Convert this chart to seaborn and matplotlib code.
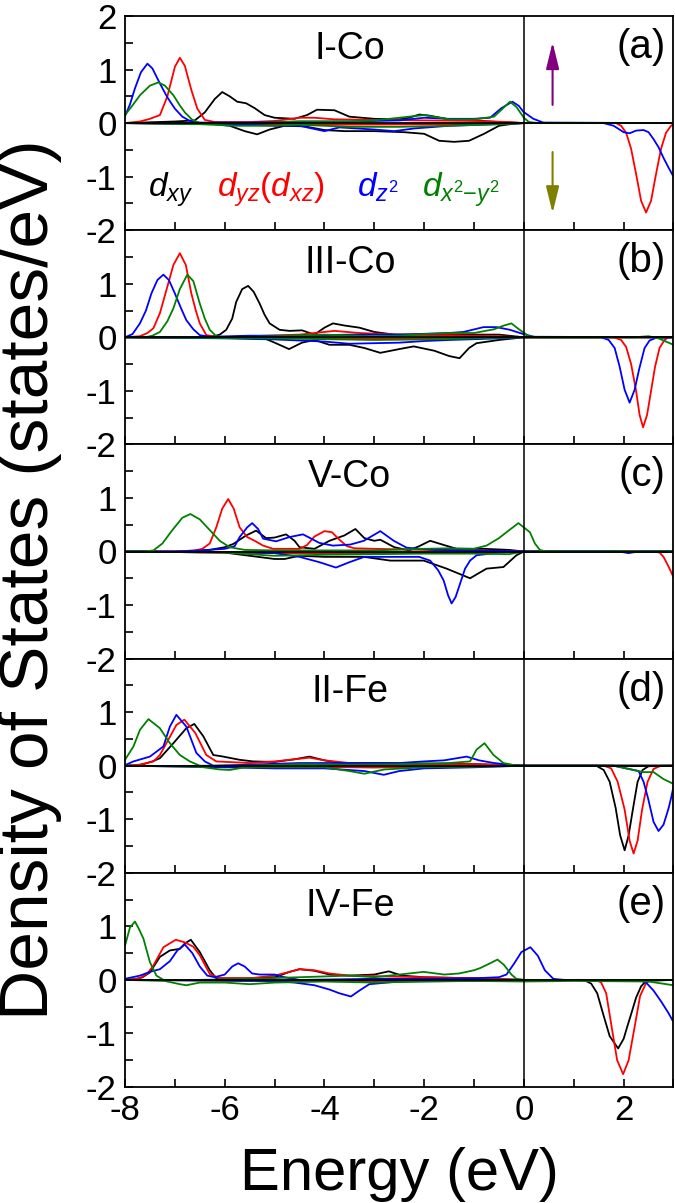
import matplotlib
matplotlib.use("Agg")
import matplotlib.pyplot as plt
from matplotlib import font_manager
from matplotlib.ticker import MultipleLocator, FixedLocator, FixedFormatter
import seaborn as sns
import pandas as pd

# ---------------- data: (energy eV, DOS states/eV) ----------------
PANELS = ["a", "b", "c", "d", "e"]
PANEL_NAMES = ["I-Co", "III-Co", "V-Co", "II-Fe", "IV-Fe"]
PANEL_LETTERS = ["(a)", "(b)", "(c)", "(d)", "(e)"]
ORBITALS = ["dxy", "dyz", "dz2", "dx2y2"]
ORBITAL_COLORS = ["#000000", "#ff0000", "#0000ff", "#008000"]
LEGEND_TEXT = [r"$d_{xy}$", r"$d_{yz}(d_{xz})$", r"$d_{z^2}$", r"$d_{x^2\mathrm{-}y^2}$"]
LEGEND_X = [-7.53, -6.15, -3.35, -2.04]
X_TICKS = [-8, -6, -4, -2, 0, 2]
Y_TICKS = [-2, -1, 0, 1, 2]

# ----- panel (a) I-Co -----
A_XY_UP = [(-8, 0), (-7.0, 0.03), (-6.6, 0.05), (-6.4, 0.2), (-6.2, 0.45), (-6.05, 0.58), (-5.9, 0.5),
           (-5.75, 0.4), (-5.57, 0.37), (-5.4, 0.28), (-5.2, 0.15), (-5.0, 0.1), (-4.6, 0.08), (-4.35, 0.15),
           (-4.15, 0.25), (-3.8, 0.24), (-3.5, 0.12), (-3.0, 0.08), (-2.5, 0.07), (-2.3, 0.1), (-2.1, 0.16),
           (-1.9, 0.14), (-1.5, 0.07), (-1.0, 0.05), (-0.5, 0.02), (0, 0.0), (3, 0)]
A_XY_DN = [(-8, 0), (-6.2, -0.02), (-5.9, -0.05), (-5.6, -0.15), (-5.35, -0.21), (-5.1, -0.12), (-4.8, -0.05),
           (-4.4, -0.06), (-4.0, -0.13), (-3.6, -0.15), (-3.0, -0.15), (-2.4, -0.17), (-2.0, -0.2), (-1.7, -0.33),
           (-1.4, -0.35), (-1.1, -0.33), (-0.8, -0.2), (-0.5, -0.05), (-0.2, -0.01), (0, 0), (3, 0)]
A_YZ_UP = [(-8, 0), (-7.7, 0.03), (-7.5, 0.08), (-7.3, 0.15), (-7.15, 0.5), (-7.0, 1.05), (-6.9, 1.22),
           (-6.8, 1.07), (-6.67, 0.62), (-6.55, 0.27), (-6.4, 0.06), (-6.2, 0.02), (-5.5, 0.02), (-5.0, 0.04),
           (-4.5, 0.1), (-4.2, 0.1), (-3.8, 0.07), (-3.0, 0.06), (-2.0, 0.05), (-1, 0.04), (-0.3, 0.02), (0, 0), (3, 0)]
A_YZ_DN = [(-8, 0), (-5, -0.02), (-4, -0.03), (-1, -0.02), (0, 0), (1.85, 0), (1.95, -0.05), (2.05, -0.18),
           (2.15, -0.48), (2.25, -0.95), (2.35, -1.45), (2.45, -1.67), (2.55, -1.45), (2.65, -0.95),
           (2.75, -0.48), (2.85, -0.18), (2.95, -0.05), (3.0, -0.02)]
A_Z2_UP = [(-8, 0.13), (-7.9, 0.35), (-7.8, 0.65), (-7.68, 0.95), (-7.55, 1.11), (-7.45, 1.02), (-7.3, 0.74),
           (-7.15, 0.48), (-7.0, 0.27), (-6.85, 0.12), (-6.7, 0.04), (-6.5, 0.01), (-5.5, 0.01), (-4.5, 0.03),
           (-3.5, 0.03), (-2.5, 0.05), (-2.0, 0.1), (-1.5, 0.08), (-1.0, 0.08), (-0.68, 0.1), (-0.45, 0.28),
           (-0.23, 0.40), (-0.1, 0.32), (-0.01, 0.21), (0.19, 0.08), (0.39, 0.01), (3, 0)]
A_Z2_DN = [(-8, 0), (-6.5, -0.01), (-5.5, -0.03), (-5, -0.05), (-4.5, -0.05), (-4.0, -0.15), (-3.7, -0.08),
           (-3.0, -0.12), (-2.6, -0.15), (-2.2, -0.1), (-1.5, -0.05), (-0.5, -0.02), (0, 0), (1.6, 0),
           (1.8, -0.05), (2.0, -0.17), (2.12, -0.19), (2.25, -0.14), (2.4, -0.13), (2.5, -0.17), (2.6, -0.3),
           (2.7, -0.45), (2.8, -0.65), (2.9, -0.83), (3.0, -1.0)]
A_X2_UP = [(-8, 0.15), (-7.85, 0.33), (-7.7, 0.52), (-7.5, 0.7), (-7.33, 0.76), (-7.2, 0.7), (-7.03, 0.52),
           (-6.9, 0.33), (-6.8, 0.2), (-6.65, 0.06), (-6.5, 0.0), (-5.5, 0.0), (-4.5, 0.03), (-3.5, 0.03),
           (-3.0, 0.05), (-2.5, 0.1), (-2.0, 0.15), (-1.5, 0.07), (-1.0, 0.07), (-0.6, 0.12), (-0.45, 0.25),
           (-0.28, 0.40), (-0.15, 0.3), (0.0, 0.1), (0.1, 0.02), (0.3, 0), (3, 0)]
A_X2_DN = [(-8, 0), (-6.5, -0.02), (-5.8, -0.05), (-5.2, -0.05), (-4.5, -0.03), (-3.5, -0.07), (-2.5, -0.07),
           (-1.5, -0.05), (-0.5, -0.02), (0, 0), (3, 0)]

# ----- panel (b) III-Co -----
B_XY_UP = [(-8, 0), (-6.3, 0.0), (-6.1, 0.05), (-5.97, 0.14), (-5.85, 0.35), (-5.77, 0.66), (-5.65, 0.9),
           (-5.53, 0.96), (-5.42, 0.85), (-5.3, 0.63), (-5.2, 0.42), (-5.1, 0.26), (-4.9, 0.14), (-4.7, 0.12),
           (-4.45, 0.13), (-4.2, 0.05), (-4.0, 0.18), (-3.83, 0.26), (-3.6, 0.22), (-3.3, 0.18), (-3.0, 0.1),
           (-2.6, 0.05), (-1.5, 0.05), (-0.5, 0.05), (0, 0), (3, 0)]
B_XY_DN = [(-8, 0), (-5.2, -0.02), (-5.0, -0.1), (-4.71, -0.22), (-4.45, -0.1), (-4.2, -0.05), (-3.9, -0.14),
           (-3.5, -0.14), (-3.2, -0.2), (-2.88, -0.29), (-2.5, -0.22), (-2.21, -0.17), (-1.8, -0.25),
           (-1.5, -0.35), (-1.29, -0.39), (-1.1, -0.2), (-0.95, -0.11), (-0.5, -0.05), (0, 0), (3, 0)]
B_YZ_UP = [(-8, 0), (-7.7, 0.02), (-7.55, 0.08), (-7.43, 0.17), (-7.3, 0.45), (-7.17, 0.88), (-7.03, 1.35),
           (-6.9, 1.57), (-6.78, 1.35), (-6.67, 0.82), (-6.58, 0.5), (-6.5, 0.26), (-6.37, 0.04), (-6.1, 0.0),
           (-5.5, 0.02), (-4.5, 0.05), (-3.8, 0.12), (-3.3, 0.08), (-2.5, 0.05), (-1.5, 0.04), (-0.5, 0.02),
           (0, 0), (3, 0)]
B_YZ_DN = [(-8, 0), (-3, -0.03), (0, 0), (1.8, 0), (1.95, -0.05), (2.05, -0.18), (2.15, -0.5), (2.25, -1.0),
           (2.32, -1.45), (2.39, -1.68), (2.47, -1.45), (2.55, -1.0), (2.63, -0.55), (2.72, -0.2),
           (2.82, -0.05), (2.9, 0.0), (3, 0)]
B_Z2_UP = [(-8, 0.0), (-7.85, 0.06), (-7.7, 0.26), (-7.58, 0.5), (-7.47, 0.82), (-7.35, 1.07), (-7.23, 1.17),
           (-7.12, 1.07), (-7.0, 0.82), (-6.88, 0.55), (-6.77, 0.32), (-6.63, 0.15), (-6.5, 0.04), (-6.3, 0.01),
           (-5.5, 0.03), (-4.5, 0.03), (-3.5, 0.05), (-2.5, 0.05), (-1.5, 0.08), (-1.21, 0.1), (-0.81, 0.19),
           (-0.55, 0.19), (-0.28, 0.14), (-0.01, 0.06), (0.2, 0.01), (3, 0)]
B_Z2_DN = [(-8, 0), (-6, -0.02), (-5, -0.04), (-4.5, -0.06), (-4, -0.08), (-3.5, -0.12), (-3, -0.11),
           (-2.5, -0.1), (-2, -0.07), (-1.5, -0.05), (-0.5, -0.02), (0, 0), (1.55, 0), (1.7, -0.05),
           (1.82, -0.2), (1.92, -0.55), (2.02, -0.98), (2.12, -1.22), (2.22, -0.98), (2.31, -0.6),
           (2.42, -0.2), (2.52, -0.06), (2.65, -0.01), (3, 0)]
B_X2_UP = [(-8, 0), (-7.6, 0.0), (-7.45, 0.03), (-7.3, 0.1), (-7.15, 0.3), (-7.03, 0.54), (-6.9, 0.9),
           (-6.75, 1.17), (-6.63, 1.05), (-6.5, 0.63), (-6.4, 0.35), (-6.3, 0.14), (-6.17, 0.02), (-6, 0),
           (-5, 0.02), (-4, 0.05), (-3, 0.02), (-2.5, 0.03), (-2, 0.06), (-1.5, 0.08), (-1.0, 0.08),
           (-0.6, 0.15), (-0.4, 0.22), (-0.25, 0.26), (-0.1, 0.15), (0.1, 0.02), (0.3, 0), (3, 0)]
B_X2_DN = [(-8, 0), (-5, -0.02), (-3, -0.05), (-2, -0.04), (-1, -0.02), (0, 0), (2.2, 0), (2.5, 0.02),
           (2.7, -0.02), (2.85, -0.08), (3, -0.14)]

# ----- panel (c) V-Co -----
C_XY_UP = [(-8, 0), (-6.8, 0.0), (-6.3, 0.03), (-6.0, 0.08), (-5.83, 0.14), (-5.57, 0.3), (-5.37, 0.39),
           (-5.17, 0.25), (-5.0, 0.26), (-4.77, 0.32), (-4.6, 0.2), (-4.5, 0.08), (-4.2, 0.05), (-3.9, 0.2),
           (-3.6, 0.3), (-3.38, 0.42), (-3.2, 0.25), (-3.0, 0.2), (-2.88, 0.22), (-2.6, 0.08), (-2.3, 0.02),
           (-2.1, 0.1), (-1.88, 0.2), (-1.6, 0.12), (-1.35, 0.05), (-0.8, 0.05), (-0.3, 0.03), (0, 0), (3, 0)]
C_XY_DN = [(-8, 0), (-6, -0.02), (-5.5, -0.08), (-5.0, -0.14), (-4.8, -0.14), (-4.5, -0.08), (-4.0, -0.1),
           (-3.88, -0.1), (-3.21, -0.1), (-2.68, -0.17), (-2.01, -0.17), (-1.55, -0.32), (-1.08, -0.5),
           (-0.75, -0.32), (-0.41, -0.29), (-0.15, -0.07), (0, 0), (3, 0)]
C_YZ_UP = [(-8, 0), (-7, 0.0), (-6.6, 0.02), (-6.45, 0.05), (-6.3, 0.15), (-6.17, 0.45), (-6.05, 0.8),
           (-5.93, 0.98), (-5.82, 0.8), (-5.7, 0.45), (-5.55, 0.27), (-5.4, 0.2), (-5.23, 0.11), (-5.03, 0.05),
           (-4.5, 0.05), (-4.35, 0.12), (-4.2, 0.28), (-4.0, 0.38), (-3.85, 0.36), (-3.7, 0.22), (-3.55, 0.1),
           (-3.4, 0.06), (-3.0, 0.05), (-2.0, 0.03), (-1.0, 0.02), (0, 0), (3, 0)]
C_YZ_DN = [(-8, 0), (-5, -0.03), (-3, -0.03), (-1, -0.02), (0, 0), (2.6, 0), (2.72, -0.02), (2.8, -0.1),
           (2.9, -0.28), (3.0, -0.48)]
C_Z2_UP = [(-8, 0), (-7, 0.0), (-6.5, 0.02), (-6, 0.05), (-5.8, 0.1), (-5.7, 0.27), (-5.55, 0.45),
           (-5.45, 0.53), (-5.33, 0.42), (-5.23, 0.24), (-4.97, 0.19), (-4.7, 0.27), (-4.43, 0.32),
           (-4.1, 0.16), (-3.83, 0.11), (-3.48, 0.13), (-3.21, 0.2), (-2.88, 0.38), (-2.61, 0.2),
           (-2.35, 0.07), (-1.8, 0.03), (-1.0, 0.02), (-0.3, 0.01), (0, 0), (3, 0)]
C_Z2_DN = [(-8, 0), (-6, -0.01), (-5, -0.03), (-4.5, -0.1), (-4.1, -0.2), (-3.77, -0.3), (-3.5, -0.2),
           (-3.2, -0.1), (-2.5, -0.1), (-2.1, -0.1), (-1.88, -0.17), (-1.72, -0.35), (-1.61, -0.54),
           (-1.52, -0.82), (-1.45, -0.97), (-1.37, -0.85), (-1.28, -0.6), (-1.18, -0.32), (-1.08, -0.17),
           (-0.95, -0.07), (-0.5, -0.02), (0, 0), (1.9, 0), (2.1, -0.03), (2.3, 0), (3, 0)]
C_X2_UP = [(-8, 0), (-7.6, 0.0), (-7.43, 0.02), (-7.25, 0.15), (-7.05, 0.4), (-6.85, 0.63), (-6.69, 0.70),
           (-6.5, 0.6), (-6.3, 0.4), (-6.1, 0.2), (-5.9, 0.08), (-5.6, 0.03), (-5, 0.02), (-4, 0.02), (-3, 0.02),
           (-2, 0.05), (-1.5, 0.06), (-1.01, 0.05), (-0.75, 0.11), (-0.5, 0.25), (-0.35, 0.36), (-0.11, 0.53),
           (0.12, 0.36), (0.22, 0.15), (0.32, 0.03), (0.45, 0), (3, 0)]
C_X2_DN = [(-8, 0), (-6, -0.02), (-5, -0.08), (-4, -0.06), (-3, -0.05), (-2, -0.04), (-1, -0.04),
           (-0.3, -0.05), (0, 0), (3, 0)]

# ----- panel (d) II-Fe -----
D_XY_UP = [(-8, 0), (-7.8, 0.0), (-7.63, 0.03), (-7.45, 0.08), (-7.3, 0.14), (-7.03, 0.42), (-6.77, 0.7),
           (-6.61, 0.78), (-6.43, 0.55), (-6.23, 0.2), (-6.03, 0.17), (-5.7, 0.11), (-5.43, 0.08),
           (-5.0, 0.07), (-4.6, 0.12), (-4.3, 0.17), (-4.0, 0.1), (-3.7, 0.05), (-3.0, 0.05), (-2, 0.04),
           (-1, 0.03), (0, 0), (3, 0)]
D_XY_DN = [(-8, 0), (-5, -0.02), (-3, -0.03), (0, 0), (1.45, 0), (1.6, -0.08), (1.72, -0.3), (1.84, -0.79),
           (1.93, -1.3), (2.02, -1.58), (2.1, -1.3), (2.19, -0.79), (2.28, -0.3), (2.38, -0.08), (2.5, -0.01),
           (3, 0)]
D_YZ_UP = [(-8, 0), (-7.7, 0.02), (-7.43, 0.08), (-7.3, 0.2), (-7.17, 0.42), (-6.97, 0.76), (-6.81, 0.86),
           (-6.59, 0.61), (-6.37, 0.2), (-6.17, 0.08), (-5.5, 0.05), (-5.0, 0.08), (-4.6, 0.12), (-4.3, 0.15),
           (-4.0, 0.1), (-3.5, 0.05), (-2.5, 0.03), (-1, 0.03), (0, 0), (3, 0)]
D_YZ_DN = [(-8, 0), (-3, -0.03), (0, 0), (1.6, 0), (1.75, -0.05), (1.88, -0.3), (2.02, -0.82), (2.12, -1.4),
           (2.2, -1.64), (2.28, -1.4), (2.37, -0.82), (2.48, -0.3), (2.6, -0.06), (2.75, 0), (3, 0)]
D_Z2_UP = [(-8, 0.01), (-7.83, 0.08), (-7.5, 0.17), (-7.23, 0.36), (-7.1, 0.73), (-6.97, 0.95),
           (-6.77, 0.73), (-6.57, 0.24), (-6.4, 0.08), (-6.23, 0.0), (-5.5, 0.02), (-4.5, 0.05), (-3.5, 0.05),
           (-2.5, 0.05), (-2.0, 0.08), (-1.6, 0.1), (-1.15, 0.17), (-0.9, 0.1), (-0.6, 0.05), (-0.3, 0.02),
           (0, 0), (3, 0)]
D_Z2_DN = [(-8, 0), (-6, -0.03), (-5, -0.05), (-4, -0.05), (-3.2, -0.1), (-2.81, -0.17), (-2.5, -0.1),
           (-2, -0.05), (-1, -0.03), (0, 0), (1.8, 0), (2.0, -0.04), (2.3, -0.1), (2.4, -0.3), (2.49, -0.61),
           (2.6, -1.05), (2.7, -1.22), (2.8, -1.1), (2.9, -0.8), (2.95, -0.61), (3.0, -0.39)]
D_X2_UP = [(-8, 0.11), (-7.83, 0.36), (-7.7, 0.67), (-7.53, 0.87), (-7.3, 0.7), (-7.1, 0.42), (-6.9, 0.2),
           (-6.7, 0.08), (-6.5, 0.0), (-5.5, 0.0), (-4.5, 0.03), (-3.5, 0.02), (-2.5, 0.03), (-2, 0.04),
           (-1.5, 0.05), (-1.08, 0.08), (-0.95, 0.3), (-0.79, 0.42), (-0.61, 0.2), (-0.41, 0.05), (-0.2, 0.01),
           (0, 0), (3, 0)]
D_X2_DN = [(-8, 0), (-6.5, -0.02), (-6.1, -0.07), (-5.9, -0.08), (-5.6, -0.03), (-4, -0.03), (-3.5, -0.1),
           (-3.2, -0.15), (-2.8, -0.07), (-2, -0.03), (-1, -0.02), (0, 0), (1.8, 0), (2.2, -0.08),
           (2.39, -0.12), (2.6, -0.12), (2.8, -0.25), (3.0, -0.34)]

# ----- panel (e) IV-Fe -----
E_XY_UP = [(-8, 0), (-7.8, 0.01), (-7.65, 0.05), (-7.5, 0.14), (-7.3, 0.43), (-7.1, 0.55), (-6.9, 0.58),
           (-6.8, 0.68), (-6.68, 0.75), (-6.5, 0.52), (-6.3, 0.18), (-6.17, 0.03), (-5.5, 0.03), (-5.0, 0.05),
           (-4.7, 0.15), (-4.5, 0.2), (-4.2, 0.17), (-3.9, 0.1), (-3.5, 0.08), (-3.0, 0.1), (-2.71, 0.16),
           (-2.45, 0.08), (-2, 0.05), (-1, 0.03), (0, 0), (3, 0)]
E_XY_DN = [(-8, 0), (-4, -0.02), (0, 0), (1.2, 0), (1.35, -0.07), (1.47, -0.25), (1.59, -0.64),
           (1.72, -1.05), (1.89, -1.28), (2.0, -1.1), (2.08, -0.85), (2.15, -0.64), (2.25, -0.33),
           (2.35, -0.12), (2.45, -0.02), (3, 0)]
E_YZ_UP = [(-8, 0), (-7.7, 0.03), (-7.55, 0.12), (-7.43, 0.27), (-7.23, 0.61), (-6.98, 0.75), (-6.8, 0.7),
           (-6.63, 0.62), (-6.5, 0.46), (-6.3, 0.11), (-6.1, 0.03), (-5.5, 0.03), (-5.0, 0.08), (-4.7, 0.15),
           (-4.5, 0.2), (-4.2, 0.18), (-3.9, 0.12), (-3.5, 0.08), (-3, 0.07), (-2, 0.05), (-1, 0.03), (0, 0),
           (3, 0)]
E_YZ_DN = [(-8, 0), (-3, -0.03), (0, 0), (1.45, 0), (1.55, -0.05), (1.65, -0.25), (1.76, -0.88),
           (1.87, -1.5), (1.99, -1.76), (2.1, -1.5), (2.22, -0.88), (2.33, -0.3), (2.45, -0.06), (2.55, 0),
           (3, 0)]
E_Z2_UP = [(-8, 0.02), (-7.7, 0.08), (-7.5, 0.15), (-7.3, 0.2), (-7.1, 0.35), (-6.95, 0.55), (-6.8, 0.66),
           (-6.65, 0.5), (-6.5, 0.25), (-6.35, 0.08), (-6.2, 0.05), (-6.0, 0.1), (-5.85, 0.25), (-5.73, 0.31),
           (-5.6, 0.25), (-5.45, 0.12), (-5.3, 0.1), (-5.0, 0.1), (-4.8, 0.05), (-4.5, 0.0), (-3, 0.02),
           (-2, 0.02), (-1, 0.03), (-0.5, 0.05), (-0.35, 0.1), (-0.2, 0.3), (-0.05, 0.52), (0.13, 0.61),
           (0.28, 0.45), (0.42, 0.18), (0.59, 0.02), (0.8, 0.0), (3, 0)]
E_Z2_DN = [(-8, 0), (-5, -0.02), (-4.6, -0.05), (-4.2, -0.1), (-3.9, -0.18), (-3.7, -0.25), (-3.47, -0.31),
           (-3.3, -0.2), (-3.1, -0.08), (-2.5, -0.03), (-1, -0.02), (0, 0), (2.3, 0), (2.45, -0.05),
           (2.6, -0.2), (2.75, -0.4), (2.9, -0.62), (3.0, -0.79)]
E_X2_UP = [(-8, 0.64), (-7.9, 0.98), (-7.8, 1.09), (-7.72, 0.95), (-7.63, 0.77), (-7.5, 0.33),
           (-7.37, 0.08), (-7.23, 0.0), (-6.5, 0.0), (-5.5, 0.02), (-4.5, 0.05), (-3.5, 0.08), (-3.0, 0.05),
           (-2.5, 0.1), (-2.01, 0.15), (-1.6, 0.1), (-1.3, 0.12), (-1.0, 0.18), (-0.88, 0.22), (-0.7, 0.3),
           (-0.53, 0.38), (-0.4, 0.28), (-0.25, 0.1), (-0.15, 0.02), (0, 0.0), (3, 0)]
E_X2_DN = [(-8, 0), (-7.2, -0.02), (-6.9, -0.08), (-6.77, -0.1), (-6.5, -0.05), (-6, -0.05), (-5.5, -0.08),
           (-5, -0.05), (-4, -0.03), (-3, -0.05), (-2, -0.03), (-1, -0.02), (0, -0.03), (1, -0.02),
           (2.5, -0.03), (3.0, -0.1)]

CURVES = {
    "a": [A_XY_UP, A_XY_DN, A_YZ_UP, A_YZ_DN, A_Z2_UP, A_Z2_DN, A_X2_UP, A_X2_DN],
    "b": [B_XY_UP, B_XY_DN, B_YZ_UP, B_YZ_DN, B_Z2_UP, B_Z2_DN, B_X2_UP, B_X2_DN],
    "c": [C_XY_UP, C_XY_DN, C_YZ_UP, C_YZ_DN, C_Z2_UP, C_Z2_DN, C_X2_UP, C_X2_DN],
    "d": [D_XY_UP, D_XY_DN, D_YZ_UP, D_YZ_DN, D_Z2_UP, D_Z2_DN, D_X2_UP, D_X2_DN],
    "e": [E_XY_UP, E_XY_DN, E_YZ_UP, E_YZ_DN, E_Z2_UP, E_Z2_DN, E_X2_UP, E_X2_DN],
}

rows = []
for p in PANELS:
    for k, curve in enumerate(CURVES[p]):
        orb = ORBITALS[k // 2]
        spin = "up" if k % 2 == 0 else "dn"
        for i, (e, d) in enumerate(curve):
            rows.append({"panel": p, "orbital": orb, "spin": spin, "order": i, "E": e, "DOS": d})
df = pd.DataFrame(rows)

# ---------------- style ----------------
sns.set_theme(style="ticks")
names = {f.name for f in font_manager.fontManager.ttflist}
BASE = "Liberation Sans" if "Liberation Sans" in names else "DejaVu Sans"
NARROW = "Liberation Sans Narrow" if "Liberation Sans Narrow" in names else BASE
plt.rcParams["font.family"] = [BASE, "DejaVu Sans"]
plt.rcParams["axes.unicode_minus"] = False
plt.rcParams["mathtext.fontset"] = "custom"
plt.rcParams["mathtext.rm"] = BASE
plt.rcParams["mathtext.it"] = BASE + ":italic"
plt.rcParams["mathtext.bf"] = BASE + ":bold"
for key in ["text.color", "axes.labelcolor", "xtick.color", "ytick.color", "axes.edgecolor",
            "xtick.labelcolor", "ytick.labelcolor"]:
    plt.rcParams[key] = "black"

W, H = 675, 1203
fig = plt.figure(figsize=(W / 100, H / 100), dpi=100)
axes = fig.subplots(5, 1, sharex=True)
fig.subplots_adjust(left=125 / W, right=673.5 / W, top=1 - 16 / H, bottom=1 - 1087 / H, hspace=0)

palette = dict(zip(ORBITALS, ORBITAL_COLORS))

for idx, (ax, p) in enumerate(zip(axes, PANELS)):
    sub = df[df["panel"] == p]
    sns.lineplot(data=sub, x="E", y="DOS", hue="orbital", units="spin", estimator=None, sort=False,
                 palette=palette, hue_order=ORBITALS, legend=False, lw=1.3, ax=ax)
    ax.axhline(0, color="black", lw=1.3, zorder=2.5)
    ax.axvline(0, color="black", lw=1.1, zorder=2.5)
    ax.set_xlim(-8, 3)
    ax.set_ylim(-2, 2)
    ax.set_xlabel("")
    ax.set_ylabel("")
    ax.xaxis.set_major_locator(FixedLocator(X_TICKS))
    ax.xaxis.set_minor_locator(MultipleLocator(1))
    ax.yaxis.set_major_locator(FixedLocator(Y_TICKS))
    ax.yaxis.set_minor_locator(MultipleLocator(0.5))
    if idx == 0:
        ax.yaxis.set_major_formatter(FixedFormatter([str(v) for v in Y_TICKS]))
    else:
        ax.yaxis.set_major_formatter(FixedFormatter([str(v) for v in Y_TICKS[:-1]] + [""]))
    ax.tick_params(which="both", direction="in", length=6, width=1.2, top=False, right=False,
                   labelsize=25, colors="black", labelcolor="black")
    ax.tick_params(axis="y", pad=6)
    ax.tick_params(axis="x", pad=5)
    for s in ax.spines.values():
        s.set_linewidth(1.3)
        s.set_color("black")
    ax.text(0.41, 0.846, PANEL_NAMES[idx], transform=ax.transAxes, ha="center", va="center",
            fontsize=27, color="black")
    ax.text(0.985, 0.855, PANEL_LETTERS[idx], transform=ax.transAxes, ha="right", va="center",
            fontsize=29, color="black")

axes[-1].xaxis.set_major_formatter(FixedFormatter([str(v) for v in X_TICKS]))

# legend-like labels in panel (a)
for txt, x, c in zip(LEGEND_TEXT, LEGEND_X, ORBITAL_COLORS):
    axes[0].text(x, -1.38, txt, color=c, fontsize=24, ha="left", va="baseline")

# spin arrows in panel (a)
axes[0].annotate("", xy=(0.575, 1.51), xytext=(0.575, 0.34),
                 arrowprops=dict(arrowstyle="-|>,head_length=0.9,head_width=0.22", color="#800080",
                                 lw=1.5, mutation_scale=18, shrinkA=0, shrinkB=0))
axes[0].annotate("", xy=(0.575, -1.68), xytext=(0.575, -0.54),
                 arrowprops=dict(arrowstyle="-|>,head_length=0.9,head_width=0.22", color="#808000",
                                 lw=1.5, mutation_scale=18, shrinkA=0, shrinkB=0))

fig.text(30 / W, 1 - 580 / H, "Density of States (states/eV)", rotation=90, ha="center", va="center",
         fontsize=50, color="black", family=[NARROW, "DejaVu Sans"])
fig.text(399.5 / W, 1 - 1190 / H, "Energy (eV)", ha="center", va="baseline", fontsize=43, color="black")

fig.savefig("out.png", dpi=100)
